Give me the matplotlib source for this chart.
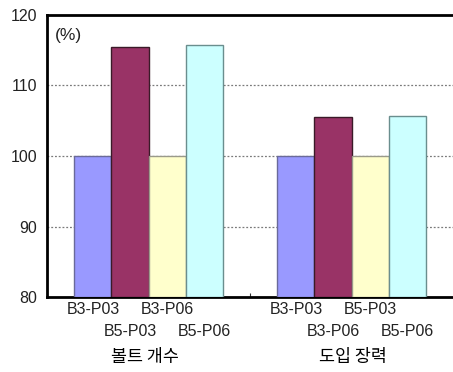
import matplotlib
matplotlib.use("Agg")
import matplotlib.pyplot as plt
import matplotlib.transforms as mtransforms
import numpy as np

# Groups on the x axis
categories = ["볼트 개수", "도입 장력"]

# Four bars per group (relative values, %)
series_1 = [100.0, 100.0]
series_2 = [115.5, 105.6]
series_3 = [100.0, 100.0]
series_4 = [115.7, 105.7]

# Labels under each bar, per group
bar_labels = [
    ["B3-P03", "B5-P03", "B3-P06", "B5-P06"],
    ["B3-P03", "B3-P06", "B5-P03", "B5-P06"],
]

y_ticks = [80, 90, 100, 110, 120]

fills = ["#9999FF", "#993366", "#FFFFCC", "#CCFFFF"]
edges = ["#6A6A9A", "#3A1A28", "#9A9A8A", "#6A8E8E"]

narrow = ["Liberation Sans Narrow", "Liberation Sans", "DejaVu Sans"]
plt.rcParams["font.family"] = narrow

fig = plt.figure(figsize=(4.53, 3.72), dpi=100)
ax = fig.add_axes([0.1038, 0.2016, 0.8962, 0.7581])

x = np.arange(len(categories))
w = 0.1827
all_series = [series_1, series_2, series_3, series_4]
for i, vals in enumerate(all_series):
    ax.bar(x + (i - 1.5) * w, np.array(vals) - 80, bottom=80, width=w,
           color=fills[i], edgecolor=edges[i], linewidth=1.0, zorder=3)

ax.set_xlim(-0.5, 1.5)
ax.set_ylim(80, 120)
ax.set_yticks(y_ticks)
ax.set_yticklabels([str(v) for v in y_ticks], fontsize=11.5, color="#222222")
ax.tick_params(axis="y", length=0, pad=7)

ax.set_xticks([0.5])
ax.set_xticklabels([""])
ax.tick_params(axis="x", direction="in", length=3, width=0.8, color="#333333")

for yv in [90, 100, 110]:
    ax.axhline(yv, color="#7a7a7a", linestyle=(0, (1.5, 1.5)), linewidth=0.9, zorder=1)

for s in ["left", "top", "bottom"]:
    ax.spines[s].set_linewidth(2.0)
    ax.spines[s].set_color("black")
ax.spines["right"].set_visible(False)

trans = mtransforms.blended_transform_factory(ax.transData, fig.transFigure)
for g in range(len(categories)):
    for i, lab in enumerate(bar_labels[g]):
        yy = 1 - 310 / 372 if i % 2 == 0 else 1 - 331 / 372
        ax.text(x[g] + (i - 1.5) * w, yy, lab, transform=trans, ha="center",
                va="center", fontsize=11.5, color="#222222")
    ax.text(x[g] - 0.02 if g == 0 else x[g] + 0.005, 1 - 357 / 372, categories[g],
            transform=trans, ha="center", va="center", fontsize=12.5,
            family=["Noto Sans CJK KR", "DejaVu Sans"], color="black")

ax.text(0.02, 0.929, "(%)", transform=ax.transAxes, fontsize=12.5, ha="left", va="center",
        color="#222222")

fig.savefig("out.png", dpi=100)
